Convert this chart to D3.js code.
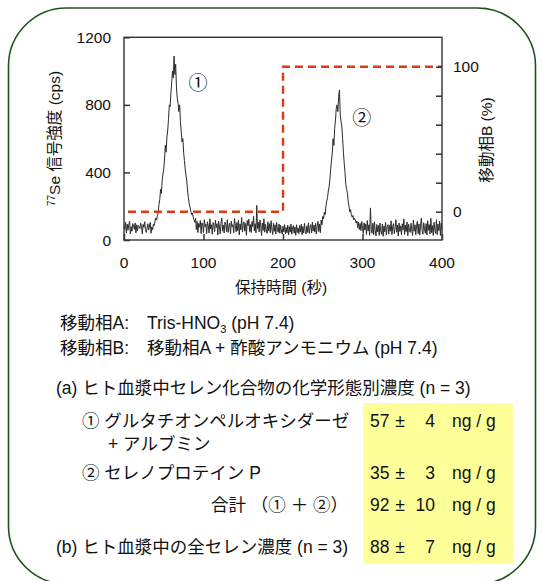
<!DOCTYPE html>
<html><head><meta charset="utf-8">
<script src="https://cdn.jsdelivr.net/npm/d3@7"></script>
<style>body{margin:0;background:#fff} svg{display:block}</style>
</head><body><svg id="c" width="542" height="581"></svg>
<script>
// ---- data ----
const sampleStart = 0, sampleStep = 1; // seconds
const signal = [
80,62,105,41,94,58,88,110,36,79,52,97,84,63,101,42,90,55,86,77,
68,99,81,37,92,74,108,63,45,70,96,59,83,104,40,78,61,93,86,112,
130,118,145,160,210,240,300,275,350,390,420,480,560,520,610,650,720,800,790,870,
930,1000,960,1089,980,1040,900,840,810,760,800,700,640,580,600,520,470,420,380,350,
290,250,215,195,170,150,160,136,120,105,128,62,110,44,98,76,115,38,102,88,
44,120,79,95,38,108,83,41,125,66,90,34,103,87,49,117,74,96,30,111,
82,37,99,130,52,88,41,106,93,50,121,45,84,100,36,112,78,91,43,127,
86,49,104,55,118,30,95,61,133,47,89,107,52,98,28,115,84,123,50,92,
44,110,79,140,53,96,42,205,68,105,48,119,83,27,101,56,126,46,93,60,
39,108,54,97,43,114,65,32,99,51,90,36,104,58,46,95,40,87,53,35,
82,48,91,37,74,43,88,30,79,46,95,34,72,85,40,77,28,90,44,71,
38,86,47,93,32,80,42,99,50,36,84,45,102,39,76,91,41,105,53,88,
46,98,35,82,110,50,95,43,118,90,140,125,165,150,200,230,250,290,315,360,
420,470,515,600,560,660,710,780,800,760,850,888,740,700,670,600,520,455,400,330,
300,278,230,200,166,180,150,135,145,120,128,118,100,112,73,105,62,98,56,110,
68,39,102,60,95,33,115,54,90,28,190,63,40,99,31,108,57,24,92,48,
86,27,100,53,34,95,22,83,49,104,30,78,91,35,87,52,113,32,80,97,
38,75,120,46,89,24,101,51,84,31,96,58,125,33,88,50,107,26,93,54,
45,99,60,27,118,52,90,31,86,110,38,95,29,83,130,55,34,102,68,40,
97,30,114,57,91,36,128,43,85,28,105,60,39,120,32,94,56,112,27,99,
63
];
const gradientTime = [5, 200, 200, 400];
const gradientB = [0, 0, 100, 100];

const xTicks = [0, 100, 200, 300, 400];
const yTicks = [0, 400, 800, 1200];
const y2Ticks = [0, 20, 40, 60, 80, 100];
const y2Labelled = [0, 100];

const peakLabels = ["①", "②"];
const peakLabelTime = [93, 299];
const peakLabelValue = [929, 722];

const mobileLines = [
  ["移動相A:", "Tris-HNO", "3", " (pH 7.4)"],
  ["移動相B:", "移動相A + 酢酸アンモニウム (pH 7.4)"]
];
const headingA = "(a) ヒト血漿中セレン化合物の化学形態別濃度 (n = 3)";
const rowLabels = ["① グルタチオンペルオキシダーゼ", "+ アルブミン", "② セレノプロテイン P", "合計 （① ＋ ②）", "(b) ヒト血漿中の全セレン濃度 (n = 3)"];
const rowMeans = [57, 35, 92, 88];
const rowSDs = [4, 3, 10, 7];
const unit = "ng / g";

// ---- drawing ----
const svg = d3.select("#c");
const FONT = "'Liberation Sans', Arial, 'Noto Sans CJK JP', sans-serif";
svg.append("rect").attr("width", 542).attr("height", 581).attr("fill", "#fff");

// frame
svg.append("rect").attr("x", 8.5).attr("y", 8).attr("width", 527).attr("height", 576)
  .attr("rx", 58).attr("ry", 58).attr("fill", "none").attr("stroke", "#1f531c").attr("stroke-width", 1.6);

const x = d3.scaleLinear().domain([0, 400]).range([124, 442]);
const y = d3.scaleLinear().domain([0, 1200]).range([240, 37.3]);
const y2 = d3.scaleLinear().domain([-19.52, 120.28]).range([240, 37.3]);

const g = svg.append("g");

// signal trace
const line = d3.line().x((d, i) => x(sampleStart + i * sampleStep)).y(d => y(d));
g.append("path").datum(signal).attr("d", line).attr("fill", "none")
  .attr("stroke", "#2a2a2a").attr("stroke-width", 1).attr("stroke-linejoin", "round");

// gradient dashed line
const gpts = gradientTime.map((t, i) => [t, gradientB[i]]);
g.append("path").datum(gpts).attr("d", d3.line().x(d => x(d[0])).y(d => y2(d[1])))
  .attr("fill", "none").attr("stroke", "#de3b12").attr("stroke-width", 2.4)
  .attr("stroke-dasharray", "8,5");

// axes
const axStyle = sel => {
  sel.select(".domain").remove();
  sel.selectAll("line").attr("stroke", "#333").attr("stroke-width", 1.5);
  sel.selectAll("text").attr("font-family", FONT).attr("font-size", 15.5).attr("fill", "#111");
};
g.append("g").attr("transform", `translate(124,0)`)
  .call(d3.axisRight(y).tickValues(yTicks).tickSize(6).tickFormat(""))
  .call(axStyle);
g.append("g").attr("transform", `translate(0,240)`)
  .call(d3.axisTop(x).tickValues(xTicks).tickSize(6).tickFormat(""))
  .call(axStyle);
g.append("g").attr("transform", `translate(442,0)`)
  .call(d3.axisLeft(y2).tickValues(y2Ticks).tickSize(6).tickFormat(""))
  .call(axStyle);

// box
g.append("rect").attr("x", 124).attr("y", 37.3).attr("width", 318).attr("height", 202.7)
  .attr("fill", "none").attr("stroke", "#333").attr("stroke-width", 1.4);

// tick labels
g.selectAll(".yl").data(yTicks).join("text")
  .attr("x", 111).attr("y", d => y(d) + 5.5).attr("text-anchor", "end")
  .attr("font-family", FONT).attr("font-size", 15.5).attr("fill", "#111").text(d => d);
g.selectAll(".xl").data(xTicks).join("text")
  .attr("x", d => x(d)).attr("y", 268).attr("text-anchor", "middle")
  .attr("font-family", FONT).attr("font-size", 15.5).attr("fill", "#111").text(d => d);
g.selectAll(".y2l").data(y2Labelled).join("text")
  .attr("x", 453).attr("y", d => y2(d) + 5.5).attr("text-anchor", "start")
  .attr("font-family", FONT).attr("font-size", 15.5).attr("fill", "#111").text(d => d);

// axis titles
g.append("text").attr("x", 281).attr("y", 293).attr("text-anchor", "middle")
  .attr("font-family", FONT).attr("font-size", 15.5).attr("fill", "#111").text("保持時間 (秒)");
const yt = g.append("text").attr("transform", "translate(60,138.5) rotate(-90)")
  .attr("text-anchor", "middle").attr("font-family", FONT).attr("font-size", 15.5).attr("fill", "#111");
yt.append("tspan").attr("font-size", 10).attr("dy", -5).text("77");
yt.append("tspan").attr("dy", 5).text("Se 信号強度 (cps)");
g.append("text").attr("transform", "translate(492,140) rotate(-90)")
  .attr("text-anchor", "middle").attr("font-family", FONT).attr("font-size", 15.5).attr("fill", "#111")
  .text("移動相B (%)");

// peak labels
g.selectAll(".pk").data(peakLabels).join("text")
  .attr("x", (d, i) => x(peakLabelTime[i])).attr("y", (d, i) => y(peakLabelValue[i]) + 6.5)
  .attr("text-anchor", "middle").attr("font-family", FONT).attr("font-size", 19).attr("fill", "#111")
  .text(d => d);

// text block
const FS = 17.5;
const t1 = svg.append("text").attr("x", 60).attr("y", 329).attr("font-family", FONT).attr("font-size", FS).attr("fill", "#111");
t1.append("tspan").text(mobileLines[0][0]);
t1.append("tspan").attr("x", 147).text(mobileLines[0][1]);
t1.append("tspan").attr("font-size", 11).attr("dy", 4).text(mobileLines[0][2]);
t1.append("tspan").attr("dy", -4).text(mobileLines[0][3]);
const t2 = svg.append("text").attr("x", 60).attr("y", 354).attr("font-family", FONT).attr("font-size", FS).attr("fill", "#111");
t2.append("tspan").text(mobileLines[1][0]);
t2.append("tspan").attr("x", 147).text(mobileLines[1][1]);
svg.append("text").attr("x", 56).attr("y", 394).attr("font-family", FONT).attr("font-size", FS).attr("fill", "#111").text(headingA);

// yellow box
svg.append("rect").attr("x", 363).attr("y", 403).attr("width", 150).attr("height", 160).attr("fill", "#ffff99");

const labelX = [82, 108, 82, 348, 56];
const labelAnchor = ["start", "start", "start", "end", "start"];
const labelY = [427, 450, 479, 511, 553];
svg.selectAll(".rl").data(rowLabels).join("text")
  .attr("x", (d, i) => labelX[i]).attr("y", (d, i) => labelY[i]).attr("text-anchor", (d, i) => labelAnchor[i])
  .attr("font-family", FONT).attr("font-size", FS).attr("fill", "#111").text(d => d);

const valY = [427, 479, 511, 553];
const vg = svg.selectAll(".vr").data(rowMeans).join("g");
vg.append("text").attr("x", 370).attr("y", (d, i) => valY[i]).attr("font-family", FONT).attr("font-size", FS).attr("fill", "#111").text(d => d);
vg.append("text").attr("x", 400).attr("y", (d, i) => valY[i]).attr("text-anchor", "middle").attr("font-family", FONT).attr("font-size", FS).attr("fill", "#111").text("±");
vg.append("text").attr("x", 435).attr("y", (d, i) => valY[i]).attr("text-anchor", "end").attr("font-family", FONT).attr("font-size", FS).attr("fill", "#111").text((d, i) => rowSDs[i]);
vg.append("text").attr("x", 452).attr("y", (d, i) => valY[i]).attr("font-family", FONT).attr("font-size", FS).attr("fill", "#111").text(unit);
</script></body></html>
